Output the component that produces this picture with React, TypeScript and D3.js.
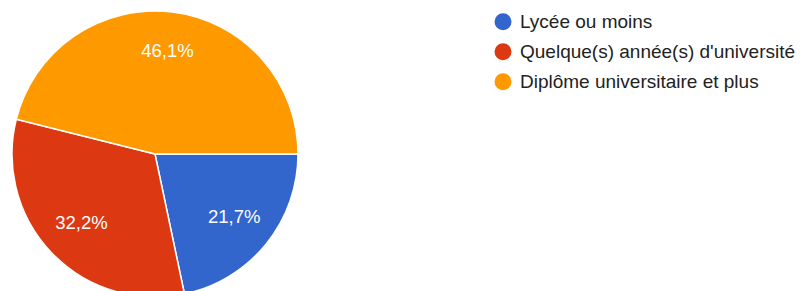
import React from "react";
import * as d3 from "d3";

const categories = ["Lycée ou moins", "Quelque(s) année(s) d'université", "Diplôme universitaire et plus"];
const values = [21.7, 32.2, 46.1];
const labels = ["21,7%", "32,2%", "46,1%"];
const colors = ["#3366cc", "#dc3912", "#ff9900"];

const W = 800;
const H = 291;
const cx = 155;
const cy = 154;
const R = 143;
const labelR = 102;

export default function App() {
  const pie = d3
    .pie<number>()
    .sort(null)
    .startAngle(Math.PI / 2)
    .endAngle(Math.PI / 2 + 2 * Math.PI)(values);
  const arc = d3.arc<d3.PieArcDatum<number>>().innerRadius(0).outerRadius(R);
  const labelArc = d3.arc<d3.PieArcDatum<number>>().innerRadius(labelR).outerRadius(labelR);
  const font = "'Liberation Sans', Arial, Helvetica, sans-serif";
  return (
    <svg width={W} height={H} style={{ position: "absolute", left: 0, top: 0, display: "block" }}>
      <rect width={W} height={H} fill="#ffffff" />
      <g transform={`translate(${cx},${cy})`}>
        {pie.map((d, i) => (
          <path key={i} d={arc(d) || ""} fill={colors[i]} stroke="#ffffff" strokeWidth={1.5} />
        ))}
        {pie.map((d, i) => {
          const [x, y] = labelArc.centroid(d);
          return (
            <text
              key={"l" + i}
              x={x}
              y={y - 2}
              textAnchor="middle"
              dominantBaseline="central"
              fill="#ffffff"
              fontFamily={font}
              fontSize={18.5}
            >
              {labels[i]}
            </text>
          );
        })}
      </g>
      <g>
        {categories.map((c, i) => (
          <g key={c} transform={`translate(503,${21.7 + i * 30})`}>
            <circle r={8.5} fill={colors[i]} />
            <text x={17} y={0} dominantBaseline="central" fill="#222222" fontFamily={font} fontSize={19}>
              {c}
            </text>
          </g>
        ))}
      </g>
    </svg>
  );
}
